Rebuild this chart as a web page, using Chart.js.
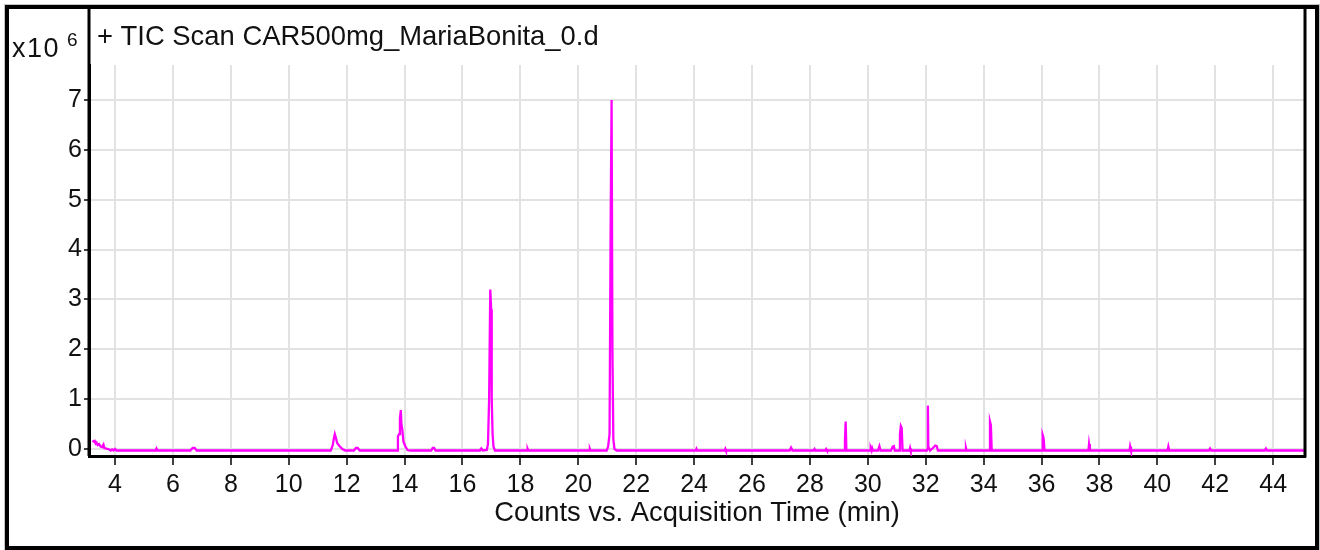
<!DOCTYPE html>
<html>
<head>
<meta charset="utf-8">
<title>TIC Scan CAR500mg_MariaBonita_0.d</title>
<script src="https://cdn.jsdelivr.net/npm/chart.js@4.4.1/dist/chart.umd.min.js"></script>
<style>
  html, body { margin: 0; padding: 0; background: #ffffff; }
  #wrap { position: relative; width: 1320px; height: 550px; }
  #tic { display: block; width: 1320px; height: 550px; }
</style>
</head>
<body>
<div id="wrap"><canvas id="tic" width="1320" height="550"></canvas></div>
<script>
// Total ion chromatogram: acquisition time (min) and counts (x10^6)
const times = [
  3.22, 3.27, 3.30, 3.33, 3.36, 3.40, 3.45, 3.50, 3.55, 3.60, 3.63, 3.70, 3.80, 3.85, 3.90, 3.95, 4.00, 4.05,
  5.40, 5.43, 5.46,
  6.60, 6.68, 6.75, 6.82,
  11.45, 11.52, 11.56, 11.59, 11.63, 11.67, 11.75, 11.85, 11.95,
  12.25, 12.32, 12.38, 12.45,
  13.74, 13.77, 13.81, 13.84, 13.87, 13.89, 13.92, 13.96, 14.02, 14.10, 14.20,
  14.92, 14.97, 15.02, 15.07,
  16.60, 16.65, 16.70, 16.84, 16.88, 16.92, 16.96, 16.99, 17.01, 17.04, 17.07, 17.12,
  18.23, 18.25, 18.27,
  20.38, 20.40, 20.42,
  20.98, 21.03, 21.08, 21.12, 21.15, 21.18, 21.21, 21.25, 21.33,
  24.06, 24.08, 24.10,
  25.06, 25.08, 25.10,
  27.30, 27.35, 27.40,
  28.13, 28.16, 28.19,
  28.53, 28.56, 28.59,
  29.18, 29.21, 29.235, 29.26,
  30.08, 30.10, 30.13, 30.15, 30.18, 30.35, 30.40, 30.44,
  30.80, 30.86, 30.90, 30.93,
  31.08, 31.11, 31.14, 31.17, 31.20,
  31.44, 31.46, 31.48,
  32.04, 32.06, 32.075, 32.09, 32.15, 32.25, 32.33, 32.38, 32.42,
  33.37, 33.39, 33.41,
  34.19, 34.22, 34.25, 34.28,
  36.02, 36.04, 36.07, 36.10, 36.12,
  37.62, 37.64, 37.67,
  39.04, 39.06, 39.09,
  40.35, 40.38, 40.41,
  41.78, 41.82, 41.86,
  43.71, 43.75, 43.79,
  45.10
];
const counts = [
  0.17, 0.15, 0.16, 0.11, 0.13, 0.08, 0.10, 0.05, 0.04, 0.09, 0.02, 0.01, -0.01, -0.03, -0.01, -0.03, 0.00, -0.03,
  -0.03, 0.01, -0.03,
  -0.03, 0.02, 0.02, -0.03,
  -0.03, 0.08, 0.22, 0.30, 0.22, 0.12, 0.06, 0.00, -0.03,
  -0.03, 0.02, 0.02, -0.03,
  -0.03, 0.25, 0.30, 0.62, 0.78, 0.50, 0.40, 0.15, 0.06, -0.02, -0.03,
  -0.03, 0.02, 0.02, -0.03,
  -0.03, 0.01, -0.03, -0.02, 0.10, 1.00, 3.20, 2.80, 1.00, 0.30, 0.05, -0.03,
  -0.03, 0.00, -0.03,
  -0.03, 0.00, -0.03,
  -0.03, 0.05, 0.30, 4.70, 7.00, 1.90, 0.20, 0.00, -0.03,
  -0.03, 0.00, -0.03,
  -0.03, 0.00, -0.03,
  -0.03, 0.03, -0.03,
  -0.03, 0.00, -0.03,
  -0.03, 0.00, -0.03,
  -0.03, 0.17, 0.55, -0.03,
  -0.03, 0.02, -0.03, 0.02, -0.03, -0.03, 0.06, -0.03,
  -0.03, 0.05, 0.06, -0.03,
  -0.03, 0.30, 0.46, 0.42, -0.03,
  -0.03, 0.02, -0.03,
  -0.03, 0.00, 0.87, 0.05, -0.03, 0.02, 0.07, 0.06, -0.03,
  -0.03, 0.02, -0.03,
  -0.03, 0.55, 0.48, -0.03,
  -0.03, 0.28, 0.22, 0.00, -0.03,
  -0.03, 0.10, -0.03,
  -0.03, 0.05, -0.03,
  -0.03, 0.05, -0.03,
  -0.03, 0.01, -0.03,
  -0.03, 0.01, -0.03,
  -0.03
];
const xTickValues = [4, 6, 8, 10, 12, 14, 16, 18, 20, 22, 24, 26, 28, 30, 32, 34, 36, 38, 40, 42, 44];
const yTickValues = [0, 1, 2, 3, 4, 5, 6, 7];

const titleText = '+ TIC Scan CAR500mg_MariaBonita_0.d';
const xTitleText = 'Counts vs. Acquisition Time (min)';
const yUnitText = 'x10';
const yExponentText = '6';

const FONT = "'Liberation Sans', Arial, Helvetica, sans-serif";

// Frame, header and exponent label drawn around the plot area
const framePlugin = {
  id: 'frame',
  afterDraw(chart) {
    const ctx = chart.ctx;
    const a = chart.chartArea;
    ctx.save();
    // outer border with a faint shadow
    ctx.strokeStyle = '#c4c4c4';
    ctx.lineWidth = 1;
    ctx.strokeRect(4.5, 4.5, 1315, 545);
    ctx.strokeStyle = '#000000';
    ctx.lineWidth = 4;
    ctx.strokeRect(7, 7, 1310, 541);
    // plot box: left axis and right edge run up to the outer border
    ctx.lineWidth = 3;
    ctx.beginPath();
    ctx.moveTo(a.left, 7);
    ctx.lineTo(a.left, a.bottom);
    ctx.moveTo(a.right, 7);
    ctx.lineTo(a.right, a.bottom + 1.5);
    ctx.stroke();
    // header text
    ctx.fillStyle = '#111111';
    ctx.textBaseline = 'alphabetic';
    ctx.textAlign = 'left';
    ctx.font = '27.4px ' + FONT;
    ctx.fillText(titleText, 97, 45);
    ctx.font = '27px ' + FONT;
    ctx.letterSpacing = '1.5px';
    ctx.fillText(yUnitText, 12, 57);
    ctx.letterSpacing = '0px';
    ctx.font = '19px ' + FONT;
    ctx.fillText(yExponentText, 67, 46);
    ctx.restore();
  }
};

new Chart(document.getElementById('tic'), {
  type: 'scatter',
  data: {
    datasets: [{
      data: times.map((t, i) => ({ x: t, y: counts[i] })),
      showLine: true,
      borderColor: '#ff00ff',
      borderWidth: 2.3,
      pointRadius: 0,
      tension: 0,
      fill: false
    }]
  },
  options: {
    responsive: false,
    maintainAspectRatio: false,
    animation: false,
    devicePixelRatio: 1,
    layout: { padding: { left: 0, right: 15, top: 65, bottom: 0 } },
    plugins: { legend: { display: false }, tooltip: { enabled: false } },
    scales: {
      x: {
        type: 'linear',
        min: 3.1,
        max: 45.1,
        afterBuildTicks: (s) => { s.ticks = xTickValues.map(v => ({ value: v })); },
        afterFit: (s) => { s.height = 94; },
        grid: { color: '#e2e2e2', lineWidth: 2, tickColor: '#000000', tickLength: 9, tickWidth: 1.5 },
        border: { display: true, color: '#000000', width: 3 },
        ticks: { color: '#111111', font: { family: FONT, size: 25 }, padding: 5, maxRotation: 0, autoSkip: false },
        title: { display: true, text: xTitleText, color: '#111111', font: { family: FONT, size: 27.3 }, padding: { top: 0, bottom: 20 } }
      },
      y: {
        type: 'linear',
        min: -0.14,
        max: 7.7,
        afterBuildTicks: (s) => { s.ticks = yTickValues.map(v => ({ value: v })); },
        afterFit: (s) => { s.width = 89; },
        grid: { color: '#e2e2e2', lineWidth: 2, tickColor: '#000000', tickLength: 5, tickWidth: 1.5 },
        border: { display: true, color: '#000000', width: 3 },
        ticks: { color: '#111111', font: { family: FONT, size: 25 }, padding: 2 }
      }
    }
  },
  plugins: [framePlugin]
});
</script>
</body>
</html>
